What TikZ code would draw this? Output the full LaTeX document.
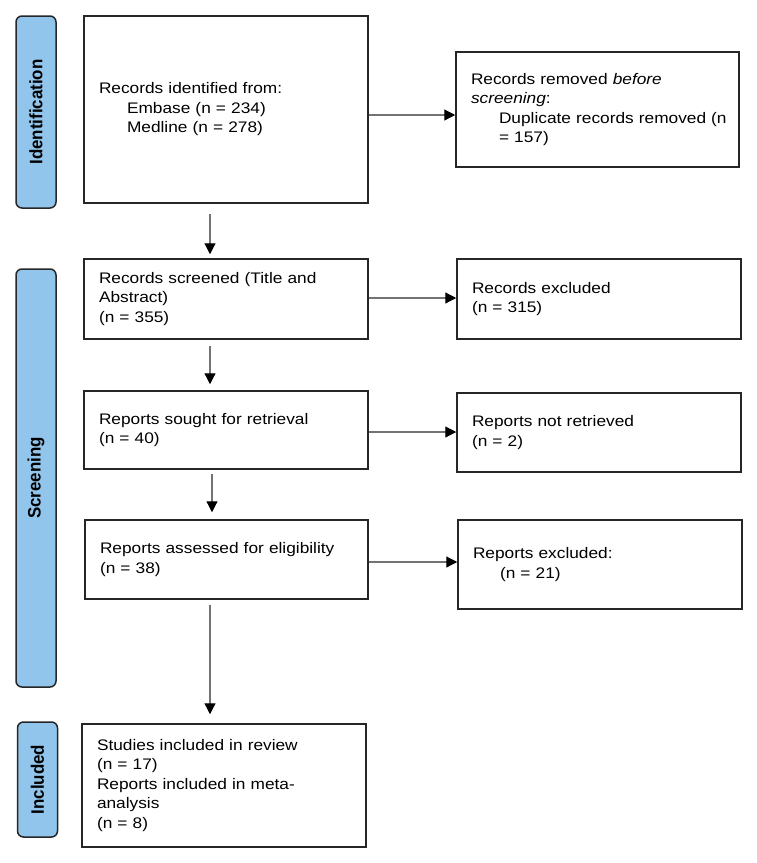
\documentclass[tikz,border=0pt]{standalone}
\usepackage{fontspec}
\setmainfont{Liberation Sans}[FakeStretch=1.13]
\newfontfamily\bandfont{Liberation Sans}[FakeStretch=0.94]
\usetikzlibrary{arrows.meta}
\definecolor{bandblue}{RGB}{146,197,236}
\tikzset{
    band/.style={draw=black!85, fill=bandblue, line width=1.5pt, rounded corners=6pt, rotate=90,
        minimum height=40pt, inner sep=0pt, font=\bandfont\fontsize{18}{18}\selectfont\bfseries},
    box/.style={draw=black!85, line width=1.5pt, align=left, inner xsep=15pt, inner ysep=0pt,
        font=\fontsize{15.3}{19.5}\selectfont},
    flow/.style={draw=black!55, line width=1.2pt, -{Triangle[length=11pt,width=11pt,black]}}
}
\begin{document}
\begin{tikzpicture}[x=1pt, y=-1pt]
    \useasboundingbox (0,0) rectangle (756,863);
    % phase bands
    \node[band, minimum width=192pt] (bandid) at (36,112) {Identification};
    \node[band, minimum width=418pt] (bandscr) at (36,478) {Screening};
    \node[band, minimum width=115pt] (bandinc) at (37.5,779.5) {Included};
    % left column
    \node[box, text width=254pt, minimum height=187pt] (ident) at (226,109.5)
        {Records identified from:\\ \hspace*{28pt}Embase (n = 234)\\ \hspace*{28pt}Medline (n = 278)};
    \node[box, text width=254pt, minimum height=80pt] (screened) at (226,299)
        {Records screened (Title and\\ Abstract)\\ (n = 355)};
    \node[box, text width=254pt, minimum height=78pt] (sought) at (226,430)
        {Reports sought for retrieval\\ (n = 40)};
    \node[box, text width=253pt, minimum height=79pt] (assessed) at (226.5,559.5)
        {Reports assessed for eligibility\\ (n = 38)};
    \node[box, text width=254pt, minimum height=123pt] (included) at (224,785.5)
        {Studies included in review\\ (n = 17)\\ Reports included in meta-\\ analysis\\ (n = 8)};
    % right column
    \node[box, text width=253pt, minimum height=115pt] (removed) at (597.5,109.5)
        {Records removed \textit{before}\\ \textit{screening}:\\
         \hspace*{28pt}\mbox{Duplicate records removed (n}\\ \hspace*{28pt}= 157)};
    \node[box, text width=254pt, minimum height=80pt] (excluded) at (599,299)
        {Records excluded\\ (n = 315)};
    \node[box, text width=254pt, minimum height=79pt] (notretr) at (599,432.5)
        {Reports not retrieved\\ (n = 2)};
    \node[box, text width=254pt, minimum height=89pt] (repexcl) at (600,564.5)
        {Reports excluded:\\ \hspace*{27pt}(n = 21)};
    % downward arrows
    \draw[flow, shorten <=10pt, shorten >=4pt] ([xshift=-16pt]ident.south) -- ([xshift=-16pt]screened.north);
    \draw[flow, shorten <=6pt, shorten >=6pt] ([xshift=-16pt]screened.south) -- ([xshift=-16pt]sought.north);
    \draw[flow, shorten <=4pt, shorten >=7pt] ([xshift=-14pt]sought.south) -- ([xshift=-14pt]sought.south |- assessed.north);
    \draw[flow, shorten <=5pt, shorten >=9pt] ([xshift=-16.5pt]assessed.south) -- ([xshift=-16.5pt]assessed.south |- included.north);
    % side arrows
    \draw[flow] ([yshift=-5.5pt]ident.east) -- ([yshift=-5.5pt]ident.east -| removed.west);
    \draw[flow] ([yshift=1pt]screened.east) -- ([yshift=1pt]screened.east -| excluded.west);
    \draw[flow] ([yshift=-2pt]sought.east) -- ([yshift=-2pt]sought.east -| notretr.west);
    \draw[flow] ([yshift=-2.5pt]assessed.east) -- ([yshift=-2.5pt]assessed.east -| repexcl.west);
\end{tikzpicture}
\end{document}
